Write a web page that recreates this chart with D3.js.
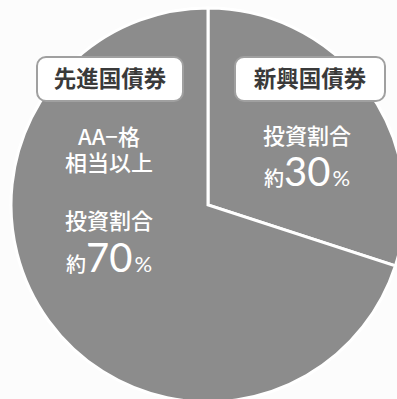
<!DOCTYPE html>
<html>
<head>
<meta charset="utf-8">
<script src="https://cdn.jsdelivr.net/npm/d3@7/dist/d3.min.js"></script>
<style>
  html, body { margin: 0; padding: 0; background: #fcfcfc; }
  svg { display: block; }
</style>
</head>
<body>
<svg id="chart" width="397" height="399"></svg>
<script>
// Allocation: emerging-market bonds vs developed-market bonds
const categories = ["新興国債券", "先進国債券"];
const shares = [30, 70];
const ratingNotes = [[], ["AA−格", "相当以上"]];
const shareCaption = "投資割合";
const approxPrefix = "約";

const width = 397, height = 399;
const cx = 208, cy = 205, radius = 197;

const svg = d3.select("#chart");
const g = svg.append("g").attr("transform", `translate(${cx},${cy})`);

const pie = d3.pie().sort(null).value(d => d.value);
const arcs = pie(categories.map((c, i) => ({ name: c, value: shares[i], notes: ratingNotes[i] })));
const arc = d3.arc().innerRadius(0).outerRadius(radius);

g.selectAll("path.slice")
  .data(arcs)
  .join("path")
  .attr("class", "slice")
  .attr("d", arc)
  .attr("fill", "#8c8c8c")
  .attr("stroke", "#ffffff")
  .attr("stroke-width", 3)
  .attr("stroke-linejoin", "miter");

// Text blocks placed inside each slice (offsets from the pie centre)
const layout = [
  { box: { x: 27, y: -148, w: 150, h: 44 }, textX: 99, capY: -61, pctY: -19 },
  { box: { x: -171, y: -148, w: 146, h: 44 }, textX: -99, noteY: -60, noteGap: 26, capY: 24, pctY: 67 }
];
const cjk = '"Noto Sans CJK JP", "Noto Sans", sans-serif';
const latin = 'Lato, "Noto Sans", sans-serif';

arcs.forEach((a, i) => {
  const L = layout[i];
  const lg = g.append("g");
  lg.append("rect")
    .attr("x", L.box.x).attr("y", L.box.y)
    .attr("width", L.box.w).attr("height", L.box.h)
    .attr("rx", 9)
    .attr("fill", "#ffffff")
    .attr("stroke", "#a0a0a0")
    .attr("stroke-width", 2);
  lg.append("text")
    .attr("x", L.box.x + L.box.w / 2)
    .attr("y", L.box.y + L.box.h / 2 + 8)
    .attr("text-anchor", "middle")
    .attr("font-family", cjk)
    .attr("font-weight", 700)
    .attr("font-size", 22.5)
    .attr("fill", "#3a3a3a")
    .text(a.data.name);

  if (a.data.notes.length) {
    const note = lg.append("text")
      .attr("text-anchor", "middle")
      .attr("font-family", cjk)
      .attr("font-weight", 500)
      .attr("font-size", 22)
      .attr("fill", "#ffffff");
    a.data.notes.forEach((t, k) => {
      note.append("tspan")
        .attr("x", L.textX)
        .attr("y", L.noteY + k * L.noteGap)
        .text(t);
    });
  }

  lg.append("text")
    .attr("x", L.textX).attr("y", L.capY)
    .attr("text-anchor", "middle")
    .attr("font-family", cjk)
    .attr("font-weight", 500)
    .attr("font-size", 22)
    .attr("fill", "#ffffff")
    .text(shareCaption);

  const pct = lg.append("text")
    .attr("x", L.textX).attr("y", L.pctY)
    .attr("text-anchor", "middle")
    .attr("fill", "#ffffff");
  pct.append("tspan")
    .attr("font-family", cjk).attr("font-weight", 500).attr("font-size", 20)
    .text(approxPrefix);
  pct.append("tspan")
    .attr("font-family", latin).attr("font-weight", 400).attr("font-size", 40)
    .text(a.data.value);
  pct.append("tspan")
    .attr("font-family", latin).attr("font-weight", 400).attr("font-size", 22)
    .attr("dx", 2)
    .text("%");
});
</script>
</body>
</html>
